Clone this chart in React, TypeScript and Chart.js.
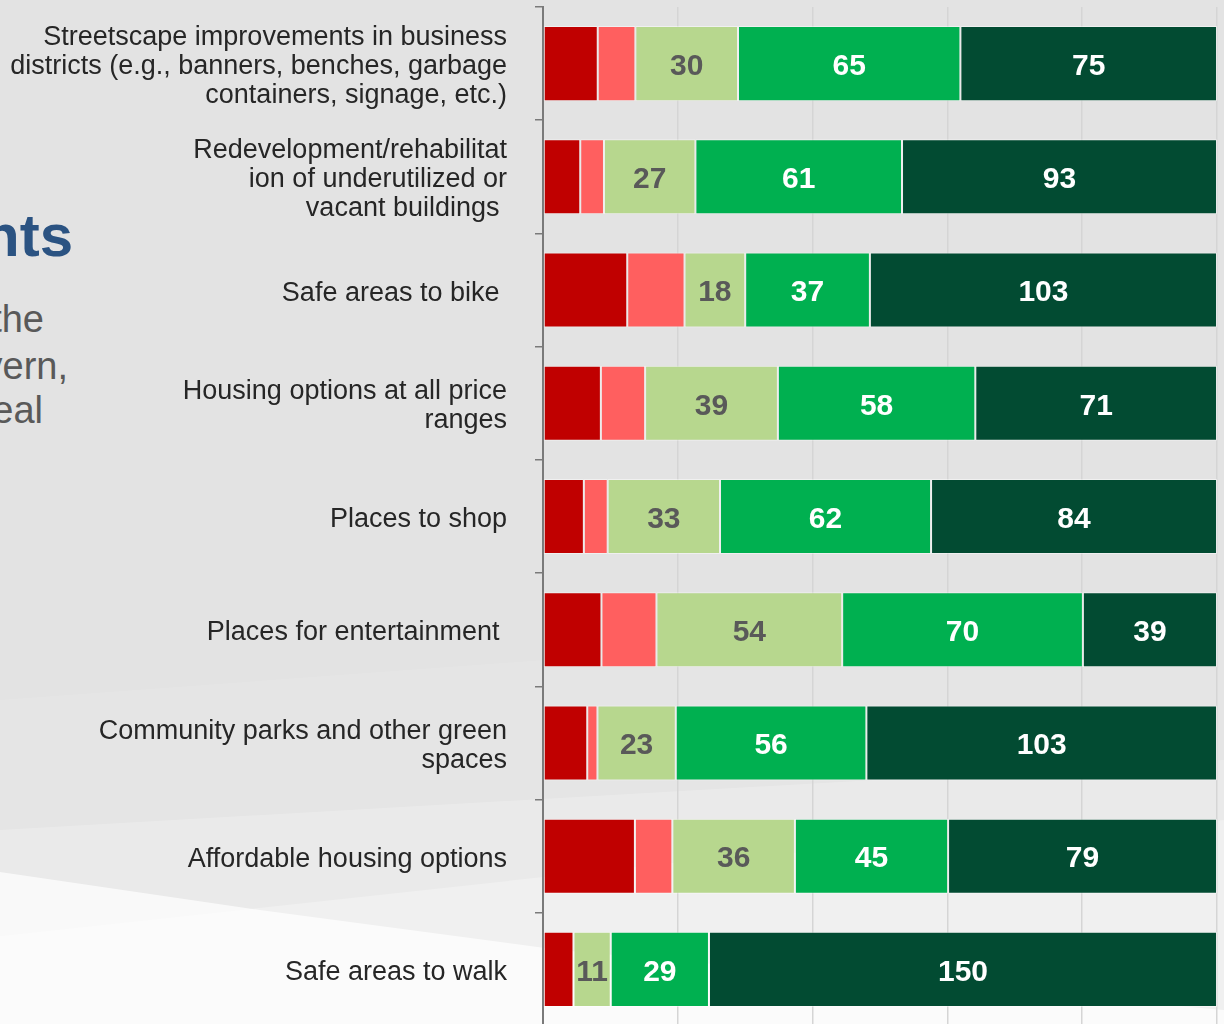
import React, { useEffect, useRef } from "react";
import { Chart, registerables } from "chart.js";

Chart.register(...registerables);

// ---- data ----
const categories: (string | string[])[] = [
  ["Streetscape improvements in business", "districts (e.g., banners, benches, garbage", "containers, signage, etc.)"],
  ["Redevelopment/rehabilitat", "ion of underutilized or", "vacant buildings "],
  "Safe areas to bike ",
  ["Housing options at all price", "ranges"],
  "Places to shop",
  "Places for entertainment ",
  ["Community parks and other green", "spaces"],
  "Affordable housing options",
  "Safe areas to walk",
];

const seriesNames = [
  "Not at all important",
  "Slightly important",
  "Moderately important",
  "Very important",
  "Extremely important",
];

const notImportant = [16, 11, 25, 17, 12, 17, 13, 27, 9];
const slightlyImportant = [11, 7, 17, 13, 7, 16, 3, 11, 0];
const moderatelyImportant = [30, 27, 18, 39, 33, 54, 23, 36, 11];
const veryImportant = [65, 61, 37, 58, 62, 70, 56, 45, 29];
const extremelyImportant = [75, 93, 103, 71, 84, 39, 103, 79, 150];

const xTickValues = [0, 20, 40, 60, 80, 100];

// ---- styling ----
const seriesColors = ["#C00000", "#FF5F5F", "#B7D78E", "#00B050", "#024B32"];
const labelColors: (string | null)[] = [null, null, "#595959", "#FFFFFF", "#FFFFFF"];
const FONT = "'Liberation Sans', Arial, Helvetica, sans-serif";

const allSeries = [notImportant, slightlyImportant, moderatelyImportant, veryImportant, extremelyImportant];
const totals = categories.map((_, i) => allSeries.reduce((s, arr) => s + arr[i], 0));

const segLabels = {
  id: "segLabels",
  afterDatasetsDraw(chart: any) {
    const ctx = chart.ctx;
    ctx.save();
    ctx.font = `bold 30px ${FONT}`;
    ctx.textAlign = "center";
    ctx.textBaseline = "middle";
    chart.data.datasets.forEach((ds: any, di: number) => {
      const color = labelColors[di];
      if (!color) return;
      const meta = chart.getDatasetMeta(di);
      meta.data.forEach((el: any, i: number) => {
        const raw = allSeries[di][i];
        if (!raw) return;
        const p = el.getProps(["x", "y", "base"], true);
        ctx.fillStyle = color;
        ctx.fillText(String(raw), (p.x + p.base) / 2, p.y + 3);
      });
    });
    ctx.restore();
  },
};

function BarChart() {
  const ref = useRef<HTMLCanvasElement | null>(null);
  useEffect(() => {
    if (!ref.current) return;
    const chart = new Chart(ref.current, {
      type: "bar",
      data: {
        labels: categories as any,
        datasets: allSeries.map((arr, di) => ({
          label: seriesNames[di],
          data: arr.map((v, i) => (v / totals[i]) * 100),
          backgroundColor: seriesColors[di],
          borderColor: "rgba(255,255,255,0.45)",
          borderWidth: 1,
          borderSkipped: false,
          barPercentage: 0.663,
          categoryPercentage: 1,
        })),
      },
      options: {
        indexAxis: "y",
        responsive: false,
        animation: false,
        devicePixelRatio: 1,
        layout: { padding: { left: 0, right: 7, top: 7, bottom: 14 } },
        plugins: {
          legend: { display: false },
          tooltip: { enabled: false },
        },
        scales: {
          x: {
            stacked: true,
            min: 0,
            max: 100,
            afterBuildTicks: (scale: any) => {
              scale.ticks = xTickValues.map((v) => ({ value: v }));
            },
            ticks: { display: false, callback: (v: any) => v + "%" },
            grid: { color: "#d5d5d5", lineWidth: 1.5, drawTicks: false },
            border: { display: false },
            afterFit: (scale: any) => {
              scale.height = 0;
              scale.paddingLeft = 0;
              scale.paddingRight = 0;
              scale.paddingTop = 0;
              scale.paddingBottom = 0;
            },
          },
          y: {
            stacked: true,
            grid: {
              drawOnChartArea: false,
              drawTicks: true,
              tickLength: 8,
              color: "#7a7a7a",
              lineWidth: 1.5,
              offset: true,
            },
            border: { display: true, color: "#7a7a7a", width: 2 },
            ticks: {
              autoSkip: false,
              padding: 28,
              labelOffset: 3,
              color: "#262626",
              font: { family: FONT, size: 27, lineHeight: "29px" as any },
            },
            afterFit: (scale: any) => {
              scale.width = 543;
              scale.paddingTop = 0;
              scale.paddingBottom = 0;
              scale.paddingLeft = 0;
              scale.paddingRight = 0;
            },
          },
        },
      },
      plugins: [segLabels],
    });
    return () => chart.destroy();
  }, []);
  return <canvas ref={ref} width={1224} height={1040} style={{ width: 1224, height: 1040, display: "block" }} />;
}

const layer = (clip: string, color: string): React.CSSProperties => ({
  position: "absolute",
  left: 0,
  top: 0,
  width: 1224,
  height: 1024,
  background: color,
  clipPath: clip,
});

export default function App() {
  return (
    <div
      style={{
        position: "fixed",
        left: 0,
        top: 0,
        width: 1224,
        height: 1024,
        overflow: "hidden",
        background: "#e3e3e3",
        fontFamily: FONT,
      }}
    >
      <div style={layer("polygon(0px 700px, 1224px 610px, 1224px 1024px, 0px 1024px)", "rgba(255,255,255,0.1)")} />
      <div style={layer("polygon(0px 830px, 1224px 760px, 1224px 1024px, 0px 1024px)", "rgba(255,255,255,0.22)")} />
      <div style={layer("polygon(0px 936px, 700px 860px, 1224px 820px, 1224px 1024px, 0px 1024px)", "rgba(255,255,255,0.28)")} />
      <div style={layer("polygon(0px 872px, 260px 910px, 560px 950px, 1224px 1010px, 1224px 1024px, 0px 1024px)", "rgba(255,255,255,0.7)")} />

      <div style={{ position: "absolute", right: 1224 - 73, top: 200, fontSize: 60, fontWeight: "bold", color: "#2B5382", whiteSpace: "nowrap", lineHeight: "72px" }}>
        nts
      </div>
      <div style={{ position: "absolute", right: 1224 - 44, top: 296, fontSize: 38, color: "#595959", whiteSpace: "nowrap", lineHeight: "46px" }}>
        the
      </div>
      <div style={{ position: "absolute", right: 1224 - 68, top: 343, fontSize: 38, color: "#595959", whiteSpace: "nowrap", lineHeight: "46px" }}>
        vern,
      </div>
      <div style={{ position: "absolute", right: 1224 - 43, top: 387, fontSize: 38, color: "#595959", whiteSpace: "nowrap", lineHeight: "46px" }}>
        eal
      </div>

      <div style={{ position: "absolute", left: 0, top: 0 }}>
        <BarChart />
      </div>
    </div>
  );
}
